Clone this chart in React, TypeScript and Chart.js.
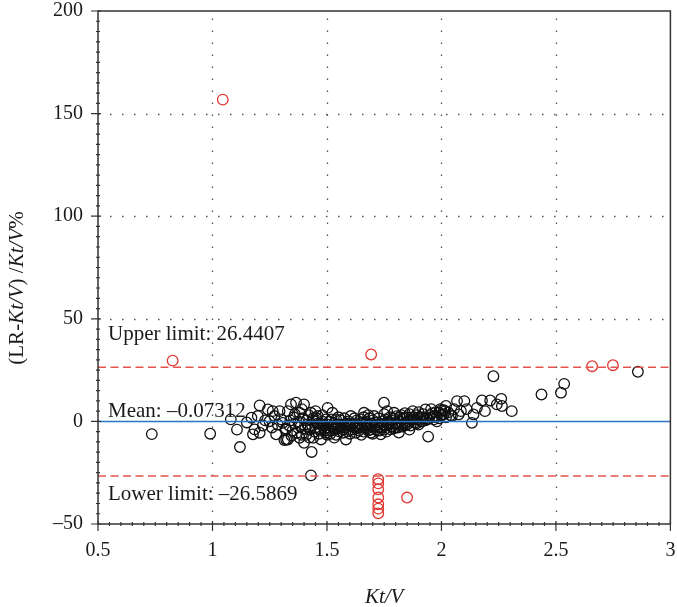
import React, { useEffect, useRef } from "react";
import { Chart, registerables } from "chart.js";

Chart.register(...registerables);

// Bland–Altman style agreement: relative difference vs Kt/V
const upperLimit = 26.4407;
const meanDiff = -0.07312;
const lowerLimit = -26.5869;

const xTicks = [0.5, 1, 1.5, 2, 2.5, 3];
const yTicks = [-50, 0, 50, 100, 150, 200];

// Points inside the limits of agreement
const inlierKtV = [
  0.735, 0.99, 1.08, 1.107, 1.12, 1.15, 1.17, 1.177, 1.184, 1.198, 1.206, 1.206, 1.22, 1.23, 1.242, 1.249,
  1.26, 1.263, 1.271, 1.278, 1.285, 1.293, 1.3, 1.307, 1.314, 1.32, 1.322, 1.329, 1.329,
  1.335, 1.34, 1.343, 1.35, 1.355, 1.36, 1.365, 1.37, 1.375, 1.38, 1.385, 1.39, 1.395, 1.4, 1.4, 1.405,
  1.41, 1.415, 1.42, 1.423, 1.425, 1.43, 1.43, 1.433, 1.435, 1.44, 1.445, 1.45, 1.455, 1.46, 1.46, 1.465,
  1.47, 1.474, 1.48, 1.485, 1.49, 1.495, 1.496, 1.5, 1.503, 1.505,
  1.51, 1.515, 1.52, 1.524, 1.53, 1.532, 1.535, 1.54, 1.545, 1.55, 1.555, 1.56, 1.565, 1.57, 1.575, 1.58,
  1.583, 1.585, 1.59, 1.595, 1.6, 1.604, 1.61, 1.615, 1.62, 1.626, 1.63, 1.635, 1.64, 1.645, 1.65, 1.655,
  1.66, 1.662, 1.665, 1.67, 1.675, 1.68, 1.685, 1.69, 1.691, 1.695, 1.7, 1.706,
  1.71, 1.715, 1.72, 1.725, 1.73, 1.735, 1.74, 1.745, 1.749, 1.75, 1.755, 1.76, 1.763, 1.77, 1.775, 1.778,
  1.78, 1.785, 1.79, 1.793, 1.8, 1.805, 1.81, 1.814, 1.82, 1.825, 1.83, 1.835, 1.84, 1.845, 1.85, 1.855,
  1.86, 1.865, 1.87, 1.875, 1.88, 1.885, 1.89, 1.895, 1.9, 1.905, 1.91, 1.916, 1.92, 1.93, 1.935, 1.942,
  1.95, 1.955, 1.96, 1.967, 1.975, 1.98, 1.988, 1.995, 2.0, 2.01, 2.017, 2.02, 2.03, 2.04, 2.046, 2.055,
  2.068, 2.075, 2.085, 2.1, 2.11, 2.133, 2.14, 2.155, 2.177, 2.19, 2.213, 2.227, 2.242, 2.261, 2.264, 2.307,
  2.437, 2.522, 2.536, 2.858,
  1.32, 1.345, 1.36, 1.38, 1.39, 1.41, 1.42, 1.44, 1.45, 1.47, 1.48, 1.5, 1.52, 1.54, 1.55, 1.57,
  1.59, 1.6, 1.62, 1.63, 1.65, 1.66, 1.68, 1.7, 1.72, 1.73, 1.76, 1.78, 1.8, 1.82, 1.84, 1.86,
  1.88, 1.9, 1.92, 1.94, 1.96, 1.98, 2.0, 2.02,
  1.47, 1.49, 1.51, 1.53, 1.56, 1.58, 1.61, 1.64, 1.67, 1.69, 1.72, 1.74, 1.77, 1.79, 1.81, 1.83,
  1.85, 1.87, 1.89, 1.91, 1.93, 1.97, 1.99, 2.01, 1.44, 1.52, 1.6, 1.68, 1.75, 1.84,
];
const inlierDiff = [
  -6.2, -6, 1, -4, -12.5, -0.5, 1.8, -6.3, -3.9, 2.6, 7.8, -5.5, -2, 0.5, 5.8, 0.1,
  -3, 5, 2.6, -6.3, -1.5, 5, 1, -0.7, -9.1, -3.5, -8.8, 5, -8.8,
  -2, 0.5, 8.3, -4.5, 2, -1, 9.1, -5.5, 0, 4.2, -2.5, -6.5, 1.5, 8.3, -10.4, -3.5,
  0.5, -1.5, 3, -7.9, -4, 4.2, -26.3, -14.9, -2, 0.5, -5, -3, 1.5, 2.6, -1, -6,
  -3.5, -8.8, 0, -2, -4.5, 1, -5.5, -1.5, 6.6, -3,
  0, -6, -2.5, 4.2, -1, -7.9, -4, 1, -3, -1.5, -5, 0.5, -2, -4, 1.5, -3,
  -8.8, -1, -5, 0, -2.5, 2.6, -4, -1, -3, -5.5, 0.5, -2, -4.5, -1, 1, -3,
  -5, 4.2, -1.5, 0, -3.5, -2, 1.5, -4, -5.5, -1, 0.5, 2.6,
  -2.5, -4, -0.5, 1.5, -3, -6.3, 0, -1.5, 9.1, -4, 1, -2, 5, -0.5, 2, -3.9,
  0.5, -2.5, 1.5, 4.2, -1, 2.5, -3, -5.4, 0, 3, -1.5, 1.5, 4, -0.5, 2, 0,
  3.5, -2, 1, 5, 2, -0.5, 3, 1, 4.5, 2, 0, 0.1, 3.5, 5.8, 1.5, -7.4,
  3, 6, 2, 1, 4.5, 2.5, 4.2, 6, 3, 5.5, 5, 7.5, 4.4, 3, 2.6, 6,
  9.9, 3.4, 5, 9.9, 6, -0.7, 3.4, 6.6, 10.2, 5, 10.2, 22, 8.3, 11, 7.5, 5,
  13.1, 14, 18.3, 24.2,
  -4, -7, 3.5, -8, 6, -6.5, -2.5, -8, 5, -4.5, 3, -6.5, -4.5, -6.5, 2, -5.5,
  -2, -6, 1.5, -3.5, -6.5, 2, -4.5, -6, -1.5, -4.5, -5, -1, -3, 2, -2, -4,
  1, -1.5, 2, 1, 4, 0, 5.5, 2,
  -1, -3.5, -4.5, -2, -3, -1.5, -2, -3, -1, -2.5, -4.5, -3, -1.5, -3.5, -1.5, -2.5,
  -1.5, 0.5, -1, 1.5, 0.5, 2.5, 1.5, 3.5, 1.5, 1, -1, 3, 3.5, 1.5,
];

// Points outside the limits of agreement
const outlierKtV = [1.045, 0.826, 1.693, 2.658, 2.749, 1.724, 1.724, 1.724, 1.724, 1.724, 1.724, 1.724, 1.85];
const outlierDiff = [156.8, 29.6, 32.6, 26.9, 27.4, -28.2, -30.2, -33.1, -37.1, -40.4, -42.5, -44.8, -37.1];

const SERIF = '"Liberation Serif", "DejaVu Serif", serif';
const TICK_SIZE = 20;
const TEXT_SIZE = 21;

function toPoints(xs: number[], ys: number[]) {
  return xs.map((x, i) => ({ x, y: ys[i] }));
}

const overlayPlugin = {
  id: "overlay",
  beforeDatasetsDraw(chart: any) {
    const { ctx, chartArea: a, scales } = chart;
    const xs = scales.x;
    const ys = scales.y;
    ctx.save();
    ctx.strokeStyle = "#555";
    ctx.lineWidth = 1.3;
    ctx.setLineDash([1.5, 10.5]);
    for (const v of xTicks) {
      if (v === xTicks[0] || v === xTicks[xTicks.length - 1]) continue;
      const px = Math.round(xs.getPixelForValue(v)) + 0.5;
      ctx.beginPath();
      ctx.moveTo(px, a.bottom);
      ctx.lineTo(px, a.top);
      ctx.stroke();
    }
    for (const v of yTicks) {
      if (v === 0 || v === yTicks[0] || v === yTicks[yTicks.length - 1]) continue;
      const py = Math.round(ys.getPixelForValue(v)) + 0.5;
      ctx.beginPath();
      ctx.moveTo(a.left, py);
      ctx.lineTo(a.right, py);
      ctx.stroke();
    }
    ctx.restore();
  },
  afterDatasetsDraw(chart: any) {
    const { ctx, chartArea: a, scales } = chart;
    const xs = scales.x;
    const ys = scales.y;
    ctx.save();
    // limits of agreement
    ctx.strokeStyle = "#e4544c";
    ctx.lineWidth = 1.5;
    ctx.setLineDash([8, 4.5]);
    for (const v of [upperLimit, lowerLimit]) {
      const py = ys.getPixelForValue(v);
      ctx.beginPath();
      ctx.moveTo(a.left, py);
      ctx.lineTo(a.right, py);
      ctx.stroke();
    }
    ctx.setLineDash([]);
    ctx.strokeStyle = "#2f74c4";
    ctx.lineWidth = 1.6;
    const pm = ys.getPixelForValue(meanDiff);
    ctx.beginPath();
    ctx.moveTo(a.left, pm);
    ctx.lineTo(a.right, pm);
    ctx.stroke();

    // frame
    ctx.strokeStyle = "#333";
    ctx.lineWidth = 1.5;
    ctx.strokeRect(a.left, a.top, a.right - a.left, a.bottom - a.top);

    // tick marks
    ctx.lineWidth = 1.2;
    ctx.beginPath();
    for (let i = 0; i <= 50; i++) {
      const v = 0.5 + i * 0.05;
      const px = xs.getPixelForValue(v);
      const major = i % 10 === 0;
      ctx.moveTo(px, a.bottom - (major ? 3 : 2));
      ctx.lineTo(px, a.bottom + (major ? 7 : 2));
    }
    for (let i = 0; i <= 50; i++) {
      const v = -50 + i * 5;
      const py = ys.getPixelForValue(v);
      const major = i % 10 === 0;
      ctx.moveTo(a.left + (major ? 3 : 2), py);
      ctx.lineTo(a.left - (major ? 7 : 2), py);
    }
    ctx.stroke();

    // annotations
    ctx.fillStyle = "#1a1a1a";
    ctx.font = `${TEXT_SIZE}px ${SERIF}`;
    ctx.textAlign = "left";
    ctx.textBaseline = "alphabetic";
    const tx = a.left + 10;
    ctx.fillText(`Upper limit: ${upperLimit}`, tx, ys.getPixelForValue(upperLimit) - 27);
    ctx.fillText(`Mean: \u2013${Math.abs(meanDiff)}`, tx, pm - 5);
    ctx.fillText(`Lower limit: \u2013${Math.abs(lowerLimit)}`, tx, ys.getPixelForValue(lowerLimit) + 24);

    // axis titles with italic Kt/V
    const drawRich = (parts: [string, boolean][], cx: number, cy: number, rot: number) => {
      ctx.save();
      ctx.translate(cx, cy);
      ctx.rotate(rot);
      const fontFor = (it: boolean) => `${it ? "italic " : ""}${TEXT_SIZE}px ${SERIF}`;
      let total = 0;
      for (const [t, it] of parts) {
        ctx.font = fontFor(it);
        total += ctx.measureText(t).width;
      }
      let x = -total / 2;
      ctx.textBaseline = "middle";
      ctx.textAlign = "left";
      for (const [t, it] of parts) {
        ctx.font = fontFor(it);
        ctx.fillText(t, x, 0);
        x += ctx.measureText(t).width;
      }
      ctx.restore();
    };
    drawRich([["Kt/V", true]], (a.left + a.right) / 2, 597, 0);
    drawRich(
      [
        ["(LR-", false],
        ["Kt/V", true],
        [") /", false],
        ["Kt/V", true],
        ["%", false],
      ],
      17,
      288,
      -Math.PI / 2
    );
    ctx.restore();
  },
};

function noOverflow(s: any) {
  s.paddingTop = 0;
  s.paddingBottom = 0;
  s.paddingLeft = 0;
  s.paddingRight = 0;
}

export default function App() {
  const canvasRef = useRef<HTMLCanvasElement | null>(null);

  useEffect(() => {
    document.body.style.margin = "0";
    const canvas = canvasRef.current;
    if (!canvas) return;
    const chart = new Chart(canvas, {
      type: "scatter",
      data: {
        datasets: [
          {
            label: "Within limits",
            data: toPoints(inlierKtV, inlierDiff),
            pointRadius: 5.3,
            pointBorderWidth: 1.3,
            borderColor: "#111",
            backgroundColor: "rgba(0,0,0,0)",
          },
          {
            label: "Outside limits",
            data: toPoints(outlierKtV, outlierDiff),
            pointRadius: 5.3,
            pointBorderWidth: 1.3,
            borderColor: "#e0352e",
            backgroundColor: "rgba(0,0,0,0)",
          },
        ],
      },
      plugins: [overlayPlugin],
      options: {
        animation: false,
        responsive: false,
        layout: { padding: { top: 11, right: 4, left: 0, bottom: 0 } },
        plugins: { legend: { display: false }, tooltip: { enabled: false } },
        scales: {
          x: {
            type: "linear",
            min: 0.5,
            max: 3,
            afterBuildTicks: (s: any) => {
              s.ticks = xTicks.map((v) => ({ value: v }));
            },
            afterFit: (s: any) => {
              s.height = 83;
              noOverflow(s);
            },
            grid: { display: false, drawTicks: false },
            border: { display: false },
            ticks: {
              padding: 15,
              color: "#1a1a1a",
              font: { family: SERIF, size: TICK_SIZE },
              callback: (v: any) => String(v),
            },
          },
          y: {
            type: "linear",
            min: -50,
            max: 200,
            afterBuildTicks: (s: any) => {
              s.ticks = yTicks.map((v) => ({ value: v }));
            },
            afterFit: (s: any) => {
              s.width = 98;
              noOverflow(s);
            },
            grid: { display: false, drawTicks: false },
            border: { display: false },
            ticks: {
              padding: 15,
              color: "#1a1a1a",
              font: { family: SERIF, size: TICK_SIZE },
              callback: (v: any) => (v < 0 ? `\u2013${Math.abs(v)}` : String(v)),
            },
          },
        },
      },
    } as any);
    return () => chart.destroy();
  }, []);

  return (
    <div style={{ position: "absolute", left: 0, top: 0, width: 677, height: 607, background: "#fff" }}>
      <canvas ref={canvasRef} width={677} height={607} style={{ width: 677, height: 607 }} />
    </div>
  );
}
